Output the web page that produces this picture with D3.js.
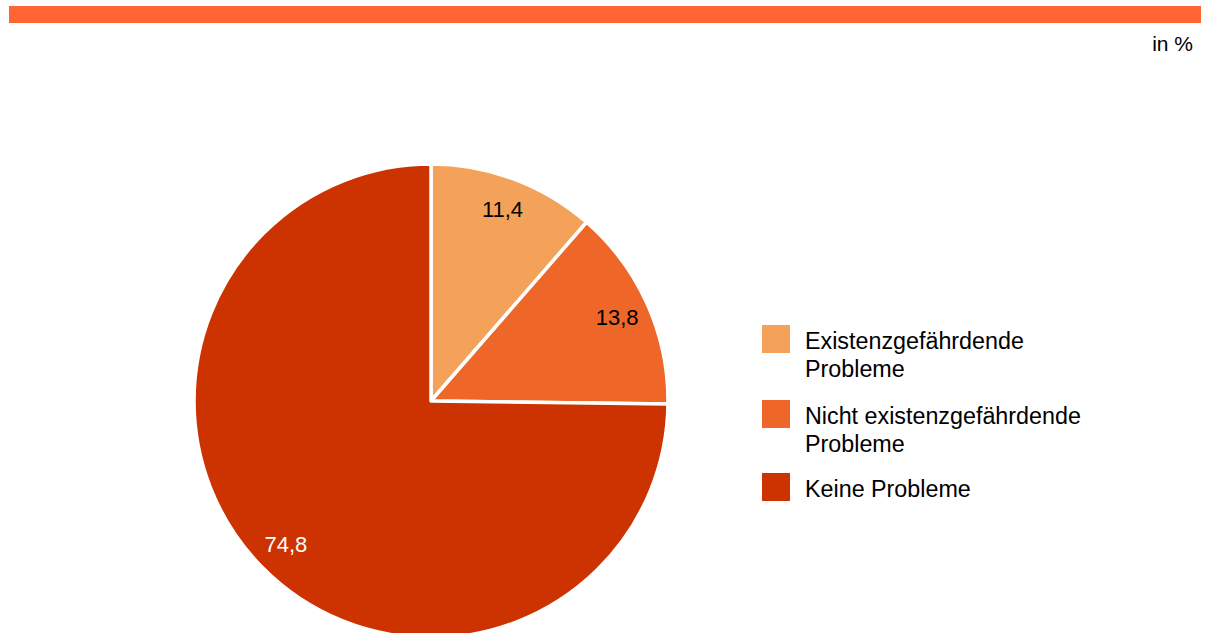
<!DOCTYPE html>
<html><head><meta charset="utf-8">
<script src="https://cdn.jsdelivr.net/npm/d3@7"></script>
<style>html,body{margin:0;padding:0;background:#fff;overflow:hidden}</style>
</head><body>
<svg id="chart" width="1209" height="633"></svg>
<script>
const categories = ["Existenzgefährdende Probleme", "Nicht existenzgefährdende Probleme", "Keine Probleme"];
const legendLines = [["Existenzgefährdende", "Probleme"], ["Nicht existenzgefährdende", "Probleme"], ["Keine Probleme"]];
const values = [11.4, 13.8, 74.8];
const valueLabels = ["11,4", "13,8", "74,8"];
const colors = ["#F4A259", "#EE6628", "#CC3300"];
const labelColors = ["#000", "#000", "#fff"];
const unitLabel = "in %";

const svg = d3.select("#chart");
const font = "'Liberation Sans', Arial, Helvetica, sans-serif";

svg.append("rect").attr("x", 9).attr("y", 6).attr("width", 1192).attr("height", 17).attr("fill", "#FF6633");
svg.append("text").attr("x", 1193).attr("y", 51).attr("text-anchor", "end")
  .attr("font-family", font).attr("font-size", 21).attr("fill", "#000").text(unitLabel);

const cx = 431, cy = 401, R = 237;
const pie = d3.pie().sort(null).value(d => d)(values);
const arc = d3.arc().innerRadius(0).outerRadius(R);
const labelArc = d3.arc().innerRadius(204).outerRadius(204);
const g = svg.append("g").attr("transform", `translate(${cx},${cy})`);
g.selectAll("path").data(pie).join("path")
  .attr("d", arc).attr("fill", (d, i) => colors[i])
  .attr("stroke", "#fff").attr("stroke-width", 3.5).attr("stroke-linejoin", "round");
g.selectAll("text").data(pie).join("text")
  .attr("transform", d => `translate(${labelArc.centroid(d)})`)
  .attr("text-anchor", "middle").attr("dominant-baseline", "central")
  .attr("font-family", font).attr("font-size", 22)
  .attr("fill", (d, i) => labelColors[i]).text((d, i) => valueLabels[i]);

const legendY = [325, 400, 473];
const lg = svg.append("g");
categories.forEach((c, i) => {
  lg.append("rect").attr("x", 762).attr("y", legendY[i]).attr("width", 28).attr("height", 28).attr("fill", colors[i]);
  const t = lg.append("text").attr("x", 805).attr("y", legendY[i] + 24)
    .attr("font-family", font).attr("font-size", 23.3).attr("fill", "#000");
  legendLines[i].forEach((ln, j) => {
    t.append("tspan").attr("x", 805).attr("dy", j === 0 ? 0 : 27.5).text(ln);
  });
});
</script>
</body></html>
